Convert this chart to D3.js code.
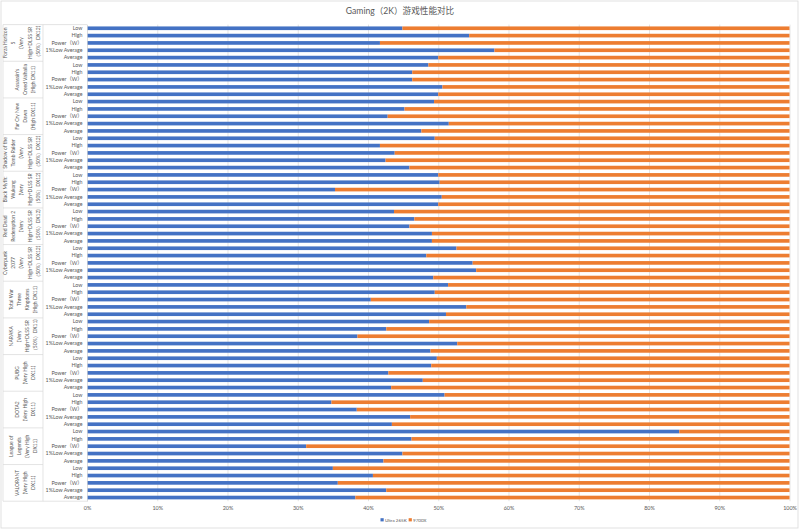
<!DOCTYPE html>
<html>
<head>
<meta charset="utf-8">
<script src="https://cdn.jsdelivr.net/npm/d3@7"></script>
<style>
  body { margin: 0; background: #fff; }
  text { font-family: Lato, "Noto Sans CJK SC", sans-serif; fill: #595959; }
</style>
</head>
<body>
<svg id="chart" width="800" height="532"></svg>
<script>
// game groups (outer category level), one entry per wrapped line
const gameLabels = [
  ["Forza Horizon", "5", "(Very", "High+DLSS SR", "（50%）DX12)"],
  ["Assassin's", "Creed Valhalla", "(High DX11)"],
  ["Far Cry New", "Dawn", "(High DX11)"],
  ["Shadow of the", "Tomb Raider", "(Very", "High+DLSS SR", "（50%）DX12)"],
  ["Black Myth:", "Wukong", "(Very", "High+DLSS SR", "（50%）DX12)"],
  ["Red Dead", "Redemption 2", "(Very", "High+DLSS SR", "（50%）DX12)"],
  ["Cyberpunk", "2077", "(Very", "High+DLSS SR", "（50%）DX12)"],
  ["Total War", "Three", "Kingdoms", "(High DX11)"],
  ["NARAKA", "(Very", "High+DLSS SR", "（50%）DX11)"],
  ["PUBG", "(Very High", "DX11)"],
  ["DOTA2", "(Very High", "DX11)"],
  ["League of", "Legends", "(Very High", "DX11)"],
  ["VALORANT", "(Very High", "DX11)"]
];

// inner category level
const metrics = ["Low", "High", "Power（W）", "1%Low Average", "Average"];

// share of each pair (percent), game by game
const ultra265K = [
  44.9, 54.4, 41.7, 58.0, 50.0,
  48.6, 46.3, 46.3, 50.6, 50.0,
  49.4, 45.2, 42.8, 51.5, 47.6,
  49.5, 41.7, 43.8, 42.5, 45.9,
  50.0, 50.2, 35.3, 50.5, 50.0,
  43.7, 46.6, 45.9, 49.1, 49.1,
  52.6, 48.3, 54.9, 55.4, 49.3,
  51.4, 49.5, 40.4, 54.0, 51.1,
  48.7, 42.6, 38.5, 52.7, 48.9,
  49.8, 49.0, 42.9, 47.8, 43.3,
  50.9, 34.8, 38.4, 46.0, 43.4,
  84.3, 46.2, 31.2, 44.9, 42.2,
  35.0, 40.7, 35.7, 42.6, 38.2
];
const r9700X = [
  55.1, 45.6, 58.3, 42.0, 50.0,
  51.4, 53.7, 53.7, 49.4, 50.0,
  50.6, 54.8, 57.2, 48.5, 52.4,
  50.5, 58.3, 56.2, 57.5, 54.1,
  50.0, 49.8, 64.7, 49.5, 50.0,
  56.3, 53.4, 54.1, 50.9, 50.9,
  47.4, 51.7, 45.1, 44.6, 50.7,
  48.6, 50.5, 59.6, 46.0, 48.9,
  51.3, 57.4, 61.5, 47.3, 51.1,
  50.2, 51.0, 57.1, 52.2, 56.7,
  49.1, 65.2, 61.6, 54.0, 56.6,
  15.7, 53.8, 68.8, 55.1, 57.8,
  65.0, 59.3, 64.3, 57.4, 61.8
];

const seriesNames = ["Ultra 265K", "9700X"];
const colors = ["#4472C4", "#ED7D31"];
const title = "Gaming（2K）游戏性能对比";

const rows = [];
gameLabels.forEach((g, gi) => {
  metrics.forEach((m, mi) => {
    const i = gi * metrics.length + mi;
    rows.push({ key: gi + "|" + m, game: gi, metric: m, ultra: ultra265K[i], amd: r9700X[i] });
  });
});

const svg = d3.select("#chart");
const plotLeft = 87, plotRight = 789.5, plotTop = 24.6, plotBottom = 501.2;

// chart border
svg.append("rect")
  .attr("x", 1).attr("y", 1).attr("width", 797).attr("height", 527)
  .attr("fill", "#fff").attr("stroke", "#d9d9d9").attr("stroke-width", 0.8);

svg.append("text")
  .attr("x", 400).attr("y", 14)
  .attr("text-anchor", "middle")
  .attr("font-size", 8.6)
  .text(title);

const x = d3.scaleLinear().domain([0, 1]).range([plotLeft, plotRight]);
const y = d3.scaleBand()
  .domain(rows.map(d => d.key))
  .range([plotTop, plotBottom])
  .paddingInner(0.5)
  .paddingOuter(0.25);

const ticks = d3.range(0, 11).map(d => d / 10);

// vertical gridlines
svg.append("g")
  .attr("transform", `translate(0,${plotBottom})`)
  .call(d3.axisBottom(x).tickValues(ticks).tickSize(-(plotBottom - plotTop)).tickFormat(""))
  .call(g => g.select(".domain").remove())
  .call(g => g.selectAll("line").attr("stroke", "#d9d9d9").attr("stroke-width", 0.7));

// tick labels
svg.append("g")
  .attr("transform", `translate(0,${plotBottom})`)
  .call(d3.axisBottom(x).tickValues(ticks).tickSize(0).tickPadding(5).tickFormat(d3.format(".0%")))
  .call(g => g.select(".domain").remove())
  .call(g => g.selectAll("text").attr("font-size", 5.4).attr("fill", "#595959"));

// stacked 100% bars
const stack = d3.stack().keys(["ultra", "amd"]).offset(d3.stackOffsetExpand);
const layers = stack(rows);

svg.append("g")
  .selectAll("g")
  .data(layers)
  .join("g")
  .attr("fill", (d, i) => colors[i])
  .selectAll("rect")
  .data(d => d)
  .join("rect")
  .attr("x", d => x(d[0]))
  .attr("width", d => x(d[1]) - x(d[0]))
  .attr("y", d => y(d.data.key))
  .attr("height", y.bandwidth());

// inner category labels
svg.append("g")
  .attr("transform", `translate(${plotLeft},0)`)
  .call(d3.axisLeft(y).tickSize(0).tickPadding(4.5).tickFormat(k => k.split("|")[1]))
  .call(g => g.select(".domain").attr("stroke", "#d9d9d9").attr("stroke-width", 0.7))
  .call(g => g.selectAll("text").attr("font-size", 5.3).attr("fill", "#595959"));

// outer category grid
const outerL = 3, outerR = 43;
const groupH = y.step() * metrics.length;
const grid = svg.append("g").attr("stroke", "#d9d9d9").attr("stroke-width", 0.7);
grid.append("line").attr("x1", outerL).attr("x2", outerL).attr("y1", plotTop).attr("y2", plotBottom);
grid.append("line").attr("x1", outerR).attr("x2", outerR).attr("y1", plotTop).attr("y2", plotBottom);
grid.append("line").attr("x1", outerL).attr("x2", plotLeft).attr("y1", plotTop).attr("y2", plotTop);
grid.append("line").attr("x1", outerL).attr("x2", plotLeft).attr("y1", plotBottom).attr("y2", plotBottom);
gameLabels.slice(1).forEach((g, i) => {
  const yy = plotTop + (i + 1) * groupH;
  grid.append("line").attr("x1", outerL).attr("x2", outerR).attr("y1", yy).attr("y2", yy);
});

// rotated game labels
const lineGap = 8.2, labelFs = 5;
gameLabels.forEach((lines, gi) => {
  const cy = plotTop + (gi + 0.5) * groupH;
  const cx = 25 - (lines.length - 3) * 1.65;
  const t = svg.append("text")
    .attr("transform", `translate(${cx},${cy}) rotate(-90)`)
    .attr("text-anchor", "middle")
    .attr("font-size", labelFs);
  lines.forEach((ln, li) => {
    t.append("tspan")
      .attr("x", 0)
      .attr("y", (li - (lines.length - 1) / 2) * lineGap + labelFs * 0.35)
      .text(ln);
  });
});

// legend
const legend = svg.append("g").attr("transform", "translate(380.5,520)");
let lx = 0;
seriesNames.forEach((s, i) => {
  legend.append("rect").attr("x", lx).attr("y", -1.8).attr("width", 3.2).attr("height", 3.2).attr("fill", colors[i]);
  const t = legend.append("text").attr("x", lx + 4.4).attr("y", 1.5).attr("font-size", 4.5).text(s);
  lx += 4.4 + t.node().getComputedTextLength() + 2;
});
</script>
</body>
</html>
